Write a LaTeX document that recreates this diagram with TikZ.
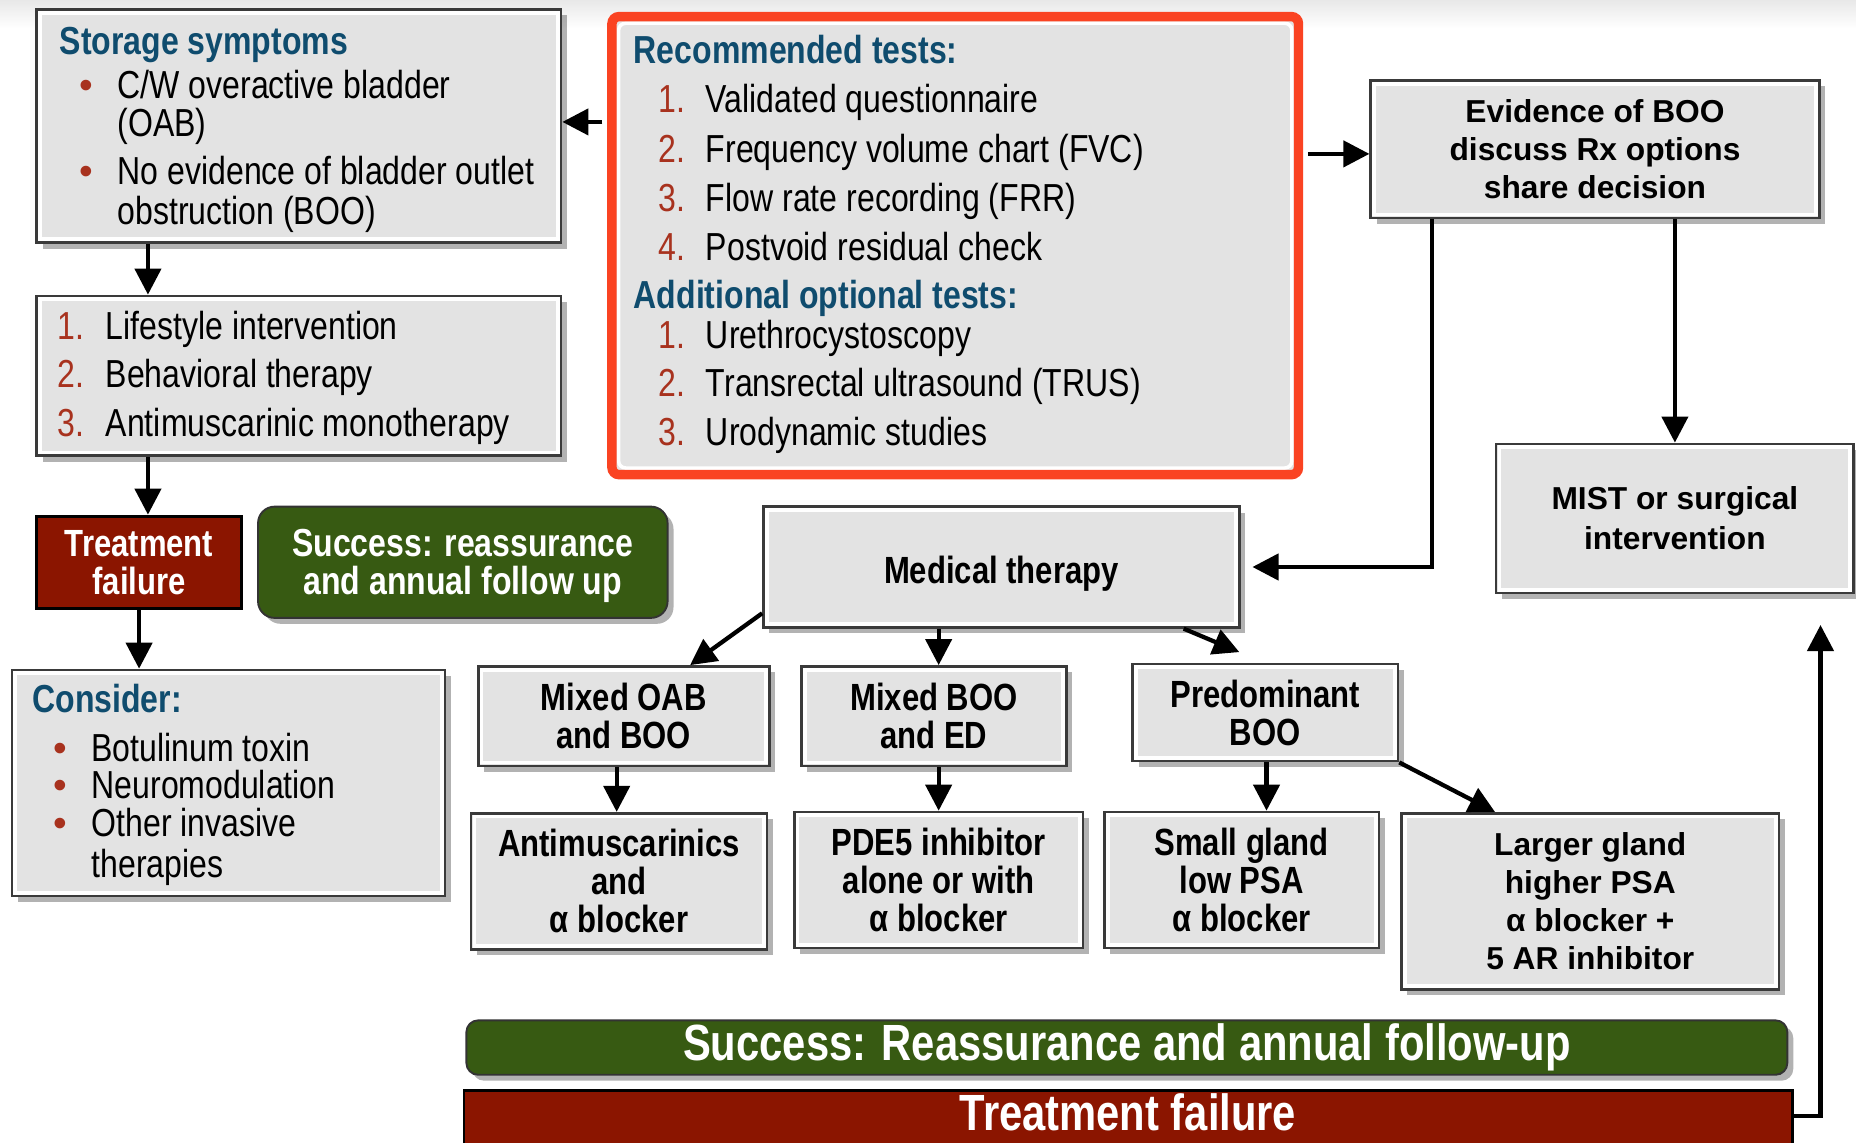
\documentclass[tikz,border=0pt]{standalone}
\usepackage{fontspec}
\setmainfont{Liberation Sans}
\newfontfamily\nar[FakeStretch=0.82]{Liberation Sans}
\usetikzlibrary{arrows.meta,shadows,fit,calc}
\definecolor{boxgray}{HTML}{E3E3E3}
\definecolor{boxline}{HTML}{3A3A3A}
\definecolor{headblue}{HTML}{0F4C6E}
\definecolor{numred}{HTML}{A8321E}
\definecolor{framered}{HTML}{FA4322}
\definecolor{darkred}{HTML}{8B1500}
\definecolor{dkgreen}{HTML}{375A12}
\tikzset{
  innerwhite/.style={path picture={\draw[white, line width=#1]
      ([shift={(1.4pt,1.4pt)}]path picture bounding box.south west) rectangle
      ([shift={(-1.4pt,-1.4pt)}]path picture bounding box.north east);}},
  gbox/.style={fill=boxgray, draw=boxline, line width=1.1pt, inner sep=0pt,
    drop shadow={shadow xshift=2.5pt, shadow yshift=-2.5pt, opacity=0.3, fill=black},
    innerwhite=1.6pt},
  rframe/.style={fill=boxgray, draw=framered, line width=4pt, rounded corners=3pt, inner sep=0pt,
    path picture={\draw[white, line width=1.5pt]
      ([shift={(2.8pt,2.8pt)}]path picture bounding box.south west) rectangle
      ([shift={(-2.8pt,-2.8pt)}]path picture bounding box.north east);}},
  redbox/.style={fill=darkred, draw=black, line width=1.2pt, inner sep=0pt},
  grnbox/.style={fill=dkgreen, draw=black!80, line width=0.8pt, inner sep=0pt,
    drop shadow={shadow xshift=2.5pt, shadow yshift=-2.5pt, opacity=0.3, fill=black}},
  nb/.style={font=\nar\bfseries\fontsize{16}{16}\selectfont, align=center, inner sep=0pt},
  wb/.style={font=\bfseries\fontsize{13.4}{16}\selectfont, align=center, inner sep=0pt},
  lt/.style={anchor=base west, inner sep=0pt, font=\nar\fontsize{16.5}{20}\selectfont},
  num/.style={lt, text=numred},
  hd/.style={anchor=base west, inner sep=0pt, font=\nar\bfseries\fontsize{16.5}{20}\selectfont, text=headblue},
  bul/.style={anchor=base west, inner sep=0pt, font=\fontsize{16.5}{20}\selectfont, text=numred},
  arr/.style={line width=1.8pt, -{Triangle[width=11pt,length=11pt]}}
}
\begin{document}
\begin{tikzpicture}[x=0.5pt,y=-0.5pt]
\useasboundingbox (0,0) rectangle (1568,965);
\shade[top color=black!9, bottom color=white] (0,0) rectangle (1568,24);

% left column
\node[gbox, fit={(31,8)(474,205)}] (storage) {};
\node[hd] (s0) at (50,46) {Storage symptoms};
\node[bul] (sb1) at (67,83) {\textbullet};
\node[lt] (s1) at (99,83) {C/W overactive bladder};
\node[lt] (s2) at (99,115) {(OAB)};
\node[bul] (sb2) at (67,156) {\textbullet};
\node[lt] (s3) at (99,156) {No evidence of bladder outlet};
\node[lt] (s4) at (99,190) {obstruction (BOO)};

\node[gbox, fit={(31,250)(474,385)}] (life) {};
\node[num] (ln1) at (48,287) {1.};
\node[lt] (l1) at (89,287) {Lifestyle intervention};
\node[num] (ln2) at (48,327) {2.};
\node[lt] (l2) at (89,327) {Behavioral therapy};
\node[num] (ln3) at (48,369) {3.};
\node[lt] (l3) at (89,369) {Antimuscarinic monotherapy};

\node[redbox, fit={(31,436)(204,514)}] (tf) {};
\node[nb, text=white] (tft) at (tf.center) {Treatment\\failure};
\node[grnbox, rounded corners=7pt, fit={(218,428)(564,522)}] (succ) {};
\node[nb, text=white, font=\nar\bfseries\fontsize{16.5}{16}\selectfont] (succt) at ($(succ.center)+(0,3)$) {Success: reassurance\\and annual follow up};

\node[gbox, fit={(10,566)(376,757)}] (cons) {};
\node[hd] (c0) at (27,602) {Consider:};
\node[bul] (cb1) at (45,643) {\textbullet};
\node[lt] (c1) at (77,643) {Botulinum toxin};
\node[bul] (cb2) at (45,675) {\textbullet};
\node[lt] (c2) at (77,675) {Neuromodulation};
\node[bul] (cb3) at (45,707) {\textbullet};
\node[lt] (c3) at (77,707) {Other invasive};
\node[lt] (c4) at (77,741) {therapies};

% tests box
\node[rframe, fit={(517,14)(1097,401)}] (rt) {};
\node[hd] (r0) at (535,54) {Recommended tests:};
\node[num] (rn1) at (556,95) {1.};
\node[lt] (r1) at (596,95) {Validated questionnaire};
\node[num] (rn2) at (556,137) {2.};
\node[lt] (r2) at (596,137) {Frequency volume chart (FVC)};
\node[num] (rn3) at (556,179) {3.};
\node[lt] (r3) at (596,179) {Flow rate recording (FRR)};
\node[num] (rn4) at (556,220) {4.};
\node[lt] (r4) at (596,220) {Postvoid residual check};
\node[hd] (a0) at (535,261) {Additional optional tests:};
\node[num] (an1) at (556,294) {1.};
\node[lt] (a1) at (596,294) {Urethrocystoscopy};
\node[num] (an2) at (556,335) {2.};
\node[lt] (a2) at (596,335) {Transrectal ultrasound (TRUS)};
\node[num] (an3) at (556,376) {3.};
\node[lt] (a3) at (596,376) {Urodynamic studies};

% right
\node[gbox, fit={(1158,68)(1537,184)}] (ev) {};
\node[wb] (evt) at (ev.center) {Evidence of BOO\\discuss Rx options\\share decision};
\node[gbox, fit={(1264,375)(1566,501)}] (mist) {};
\node[wb, font=\bfseries\fontsize{13.4}{17}\selectfont] (mistt) at (mist.center) {MIST or surgical\\intervention};

% medical therapy tree
\node[gbox, fit={(645,428)(1047,530)}] (med) {};
\node[nb] (medt) at ($(med.center)+(0,6)$) {Medical therapy};
\node[gbox, fit={(404,563)(650,647)}] (oab) {};
\node[nb] (oabt) at (oab.center) {Mixed OAB\\and BOO};
\node[gbox, fit={(677,563)(901,647)}] (mb) {};
\node[nb] (mbt) at (mb.center) {Mixed BOO\\and ED};
\node[gbox, fit={(957,561)(1181,643)}] (pred) {};
\node[nb] (predt) at (pred.center) {Predominant\\BOO};
\node[gbox, fit={(398,687)(648,802)}] (anti) {};
\node[nb] (antit) at (anti.center) {Antimuscarinics\\and\\α blocker};
\node[gbox, fit={(671,686)(915,801)}] (pde) {};
\node[nb] (pdet) at (pde.center) {PDE5 inhibitor\\alone or with\\α blocker};
\node[gbox, fit={(933,686)(1165,801)}] (small) {};
\node[nb] (smallt) at (small.center) {Small gland\\low PSA\\α blocker};
\node[gbox, fit={(1184,687)(1503,836)}] (large) {};
\node[wb] (larget) at (large.center) {Larger gland\\higher PSA\\α blocker +\\5 AR inhibitor};

% bottom bars
\node[grnbox, rounded corners=5pt, fit={(394,862)(1510,908)}] (sbar) {};
\node[nb, text=white, font=\nar\bfseries\fontsize{21.5}{24}\selectfont] (sbart) at (sbar.center) {Success: Reassurance and annual follow-up};
\node[redbox, fit={(392,921)(1514,969)}] (fbar) {};
\node[nb, text=white, font=\nar\bfseries\fontsize{21.5}{24}\selectfont] (fbart) at ($(fbar.center)+(0,-5)$) {Treatment failure};

% connectors
\draw[arr] ($(rt.west |- 0,103)+(-4,0)$) -- (storage.east |- 0,103);
\draw[arr] ($(rt.east |- 0,130)+(4,0)$) -- (ev.west |- 0,130);
\draw[arr] (storage.south -| 125,0) -- (life.north -| 125,0);
\draw[arr] (life.south -| 125,0) -- (tf.north -| 125,0);
\draw[arr] (tf.south) -- (tf.south |- cons.north);
\draw[arr] (mist.north |- ev.south) -- (mist.north);
\draw[arr] (ev.south -| 1210,0) |- ($(med.east)+(10,0)$);
\draw[arr] ($(med.south west)+(0,-13)$) -- (oab.north -| 583,0);
\draw[arr] (med.south -| 793,0) -- (mb.north -| 793,0);
\draw[arr] (med.south -| 1000,0) -- ($(pred.north -| 1047,0)+(0,-9)$);
\draw[arr] (oab.south -| 521,0) -- (anti.north -| 521,0);
\draw[arr] (mb.south -| 793,0) -- (pde.north -| 793,0);
\draw[arr] (pred.south -| 1070,0) -- (small.north -| 1070,0);
\draw[arr] (pred.south east) -- (large.north -| 1263,0);
\coordinate (upend) at (1538,528);
\draw[arr] (fbar.east |- 0,943) -| (upend);
\end{tikzpicture}
\end{document}
